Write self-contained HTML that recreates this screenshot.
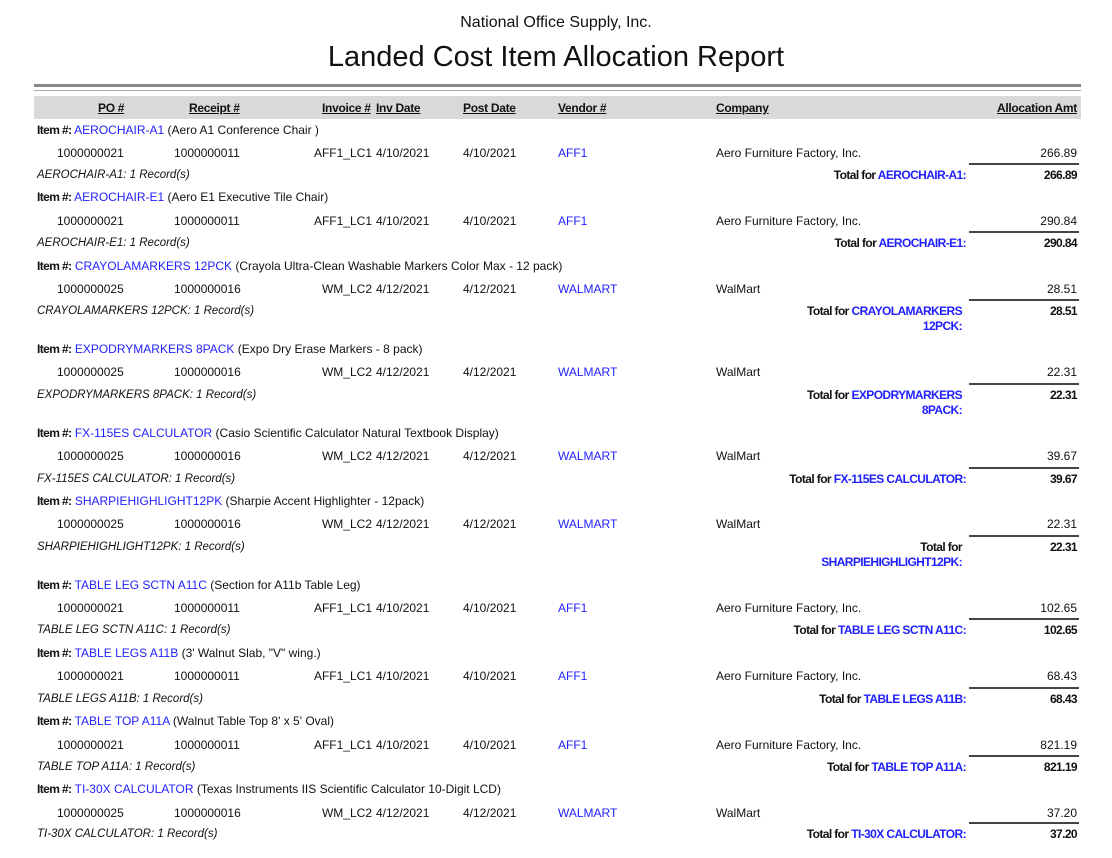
<!DOCTYPE html>
<html><head><meta charset="utf-8"><style>
body{margin:0;width:1112px;height:858px;background:#fff;position:relative;overflow:hidden;font-family:"Liberation Sans",sans-serif;font-size:12px;color:#111}
div{position:absolute;white-space:nowrap;line-height:14px}
.b{color:#1f1fff}
.n{font-family:"Liberation Sans",sans-serif;font-weight:bold;font-size:12px;letter-spacing:-0.6px}
.i{font-style:italic;font-size:11.5px}
.r{text-align:right}
.h{font-family:"Liberation Sans",sans-serif;font-weight:bold;text-decoration:underline;font-size:12px;letter-spacing:-0.3px}
.ln{height:0;border-top:2px solid #444;left:969px;width:110px}
</style></head><body>
<div style="left:0;width:1112px;text-align:center;top:14px;font-size:16px;line-height:18px">National Office Supply, Inc.</div>
<div style="left:0;width:1112px;text-align:center;top:40px;font-size:29px;line-height:34px">Landed Cost Item Allocation Report</div>
<div style="left:34px;width:1047px;top:84px;height:3px;background:#888"></div>
<div style="left:34px;width:1047px;top:90px;height:1px;background:#aaa"></div>
<div style="left:34px;width:1047px;top:96px;height:23px;background:#d9d9d9"></div>
<div class="h" style="left:98px;top:101px">PO #</div>
<div class="h" style="left:189px;top:101px">Receipt #</div>
<div class="h" style="left:322px;top:101px">Invoice #</div>
<div class="h" style="left:376px;top:101px">Inv Date</div>
<div class="h" style="left:463px;top:101px">Post Date</div>
<div class="h" style="left:558px;top:101px">Vendor #</div>
<div class="h" style="left:716px;top:101px">Company</div>
<div class="h r" style="right:35px;top:101px">Allocation Amt</div>

<!-- group 1 -->
<div style="left:37px;top:123px"><span class="n">Item #:</span> <span class="b">AEROCHAIR-A1</span> (Aero A1 Conference Chair )</div>
<div style="left:57px;top:146px">1000000021</div><div style="left:174px;top:146px">1000000011</div><div class="r" style="right:740px;top:146px">AFF1_LC1</div><div style="left:376px;top:146px">4/10/2021</div><div style="left:463px;top:146px">4/10/2021</div><div class="b" style="left:558px;top:146px">AFF1</div><div style="left:716px;top:146px">Aero Furniture Factory, Inc.</div><div class="r" style="right:35px;top:146px">266.89</div>
<div class="ln" style="top:163px"></div>
<div class="i" style="left:37px;top:168px">AEROCHAIR-A1: 1 Record(s)</div>
<div class="n r" style="right:146px;top:168px">Total for <span class="b">AEROCHAIR-A1:</span></div><div class="n r" style="right:35px;top:168px">266.89</div>

<!-- group 2 -->
<div style="left:37px;top:190px"><span class="n">Item #:</span> <span class="b">AEROCHAIR-E1</span> (Aero E1 Executive Tile Chair)</div>
<div style="left:57px;top:214px">1000000021</div><div style="left:174px;top:214px">1000000011</div><div class="r" style="right:740px;top:214px">AFF1_LC1</div><div style="left:376px;top:214px">4/10/2021</div><div style="left:463px;top:214px">4/10/2021</div><div class="b" style="left:558px;top:214px">AFF1</div><div style="left:716px;top:214px">Aero Furniture Factory, Inc.</div><div class="r" style="right:35px;top:214px">290.84</div>
<div class="ln" style="top:231px"></div>
<div class="i" style="left:37px;top:236px">AEROCHAIR-E1: 1 Record(s)</div>
<div class="n r" style="right:146px;top:236px">Total for <span class="b">AEROCHAIR-E1:</span></div><div class="n r" style="right:35px;top:236px">290.84</div>

<!-- group 3 -->
<div style="left:37px;top:259px"><span class="n">Item #:</span> <span class="b">CRAYOLAMARKERS 12PCK</span> (Crayola Ultra-Clean Washable Markers Color Max - 12 pack)</div>
<div style="left:57px;top:282px">1000000025</div><div style="left:174px;top:282px">1000000016</div><div class="r" style="right:740px;top:282px">WM_LC2</div><div style="left:376px;top:282px">4/12/2021</div><div style="left:463px;top:282px">4/12/2021</div><div class="b" style="left:558px;top:282px">WALMART</div><div style="left:716px;top:282px">WalMart</div><div class="r" style="right:35px;top:282px">28.51</div>
<div class="ln" style="top:299px"></div>
<div class="i" style="left:37px;top:304px">CRAYOLAMARKERS 12PCK: 1 Record(s)</div>
<div class="n r" style="right:150px;top:304px;line-height:15px">Total for <span class="b">CRAYOLAMARKERS</span><br><span class="b">12PCK:</span></div><div class="n r" style="right:35px;top:304px">28.51</div>

<!-- group 4 -->
<div style="left:37px;top:342px"><span class="n">Item #:</span> <span class="b">EXPODRYMARKERS 8PACK</span> (Expo Dry Erase Markers - 8 pack)</div>
<div style="left:57px;top:365px">1000000025</div><div style="left:174px;top:365px">1000000016</div><div class="r" style="right:740px;top:365px">WM_LC2</div><div style="left:376px;top:365px">4/12/2021</div><div style="left:463px;top:365px">4/12/2021</div><div class="b" style="left:558px;top:365px">WALMART</div><div style="left:716px;top:365px">WalMart</div><div class="r" style="right:35px;top:365px">22.31</div>
<div class="ln" style="top:383px"></div>
<div class="i" style="left:37px;top:388px">EXPODRYMARKERS 8PACK: 1 Record(s)</div>
<div class="n r" style="right:150px;top:388px;line-height:15px">Total for <span class="b">EXPODRYMARKERS</span><br><span class="b">8PACK:</span></div><div class="n r" style="right:35px;top:388px">22.31</div>

<!-- group 5 -->
<div style="left:37px;top:426px"><span class="n">Item #:</span> <span class="b">FX-115ES CALCULATOR</span> (Casio Scientific Calculator Natural Textbook Display)</div>
<div style="left:57px;top:449px">1000000025</div><div style="left:174px;top:449px">1000000016</div><div class="r" style="right:740px;top:449px">WM_LC2</div><div style="left:376px;top:449px">4/12/2021</div><div style="left:463px;top:449px">4/12/2021</div><div class="b" style="left:558px;top:449px">WALMART</div><div style="left:716px;top:449px">WalMart</div><div class="r" style="right:35px;top:449px">39.67</div>
<div class="ln" style="top:467px"></div>
<div class="i" style="left:37px;top:472px">FX-115ES CALCULATOR: 1 Record(s)</div>
<div class="n r" style="right:146px;top:472px">Total for <span class="b">FX-115ES CALCULATOR:</span></div><div class="n r" style="right:35px;top:472px">39.67</div>

<!-- group 6 -->
<div style="left:37px;top:494px"><span class="n">Item #:</span> <span class="b">SHARPIEHIGHLIGHT12PK</span> (Sharpie Accent Highlighter - 12pack)</div>
<div style="left:57px;top:517px">1000000025</div><div style="left:174px;top:517px">1000000016</div><div class="r" style="right:740px;top:517px">WM_LC2</div><div style="left:376px;top:517px">4/12/2021</div><div style="left:463px;top:517px">4/12/2021</div><div class="b" style="left:558px;top:517px">WALMART</div><div style="left:716px;top:517px">WalMart</div><div class="r" style="right:35px;top:517px">22.31</div>
<div class="ln" style="top:535px"></div>
<div class="i" style="left:37px;top:540px">SHARPIEHIGHLIGHT12PK: 1 Record(s)</div>
<div class="n r" style="right:150px;top:540px;line-height:15px">Total for<br><span class="b">SHARPIEHIGHLIGHT12PK:</span></div><div class="n r" style="right:35px;top:540px">22.31</div>

<!-- group 7 -->
<div style="left:37px;top:578px"><span class="n">Item #:</span> <span class="b">TABLE LEG SCTN A11C</span> (Section for A11b Table Leg)</div>
<div style="left:57px;top:601px">1000000021</div><div style="left:174px;top:601px">1000000011</div><div class="r" style="right:740px;top:601px">AFF1_LC1</div><div style="left:376px;top:601px">4/10/2021</div><div style="left:463px;top:601px">4/10/2021</div><div class="b" style="left:558px;top:601px">AFF1</div><div style="left:716px;top:601px">Aero Furniture Factory, Inc.</div><div class="r" style="right:35px;top:601px">102.65</div>
<div class="ln" style="top:618px"></div>
<div class="i" style="left:37px;top:623px">TABLE LEG SCTN A11C: 1 Record(s)</div>
<div class="n r" style="right:146px;top:623px">Total for <span class="b">TABLE LEG SCTN A11C:</span></div><div class="n r" style="right:35px;top:623px">102.65</div>

<!-- group 8 -->
<div style="left:37px;top:646px"><span class="n">Item #:</span> <span class="b">TABLE LEGS A11B</span> (3' Walnut Slab, "V" wing.)</div>
<div style="left:57px;top:669px">1000000021</div><div style="left:174px;top:669px">1000000011</div><div class="r" style="right:740px;top:669px">AFF1_LC1</div><div style="left:376px;top:669px">4/10/2021</div><div style="left:463px;top:669px">4/10/2021</div><div class="b" style="left:558px;top:669px">AFF1</div><div style="left:716px;top:669px">Aero Furniture Factory, Inc.</div><div class="r" style="right:35px;top:669px">68.43</div>
<div class="ln" style="top:687px"></div>
<div class="i" style="left:37px;top:692px">TABLE LEGS A11B: 1 Record(s)</div>
<div class="n r" style="right:146px;top:692px">Total for <span class="b">TABLE LEGS A11B:</span></div><div class="n r" style="right:35px;top:692px">68.43</div>

<!-- group 9 -->
<div style="left:37px;top:714px"><span class="n">Item #:</span> <span class="b">TABLE TOP A11A</span> (Walnut Table Top 8' x 5' Oval)</div>
<div style="left:57px;top:738px">1000000021</div><div style="left:174px;top:738px">1000000011</div><div class="r" style="right:740px;top:738px">AFF1_LC1</div><div style="left:376px;top:738px">4/10/2021</div><div style="left:463px;top:738px">4/10/2021</div><div class="b" style="left:558px;top:738px">AFF1</div><div style="left:716px;top:738px">Aero Furniture Factory, Inc.</div><div class="r" style="right:35px;top:738px">821.19</div>
<div class="ln" style="top:755px"></div>
<div class="i" style="left:37px;top:760px">TABLE TOP A11A: 1 Record(s)</div>
<div class="n r" style="right:146px;top:760px">Total for <span class="b">TABLE TOP A11A:</span></div><div class="n r" style="right:35px;top:760px">821.19</div>

<!-- group 10 -->
<div style="left:37px;top:782px"><span class="n">Item #:</span> <span class="b">TI-30X CALCULATOR</span> (Texas Instruments IIS Scientific Calculator 10-Digit LCD)</div>
<div style="left:57px;top:806px">1000000025</div><div style="left:174px;top:806px">1000000016</div><div class="r" style="right:740px;top:806px">WM_LC2</div><div style="left:376px;top:806px">4/12/2021</div><div style="left:463px;top:806px">4/12/2021</div><div class="b" style="left:558px;top:806px">WALMART</div><div style="left:716px;top:806px">WalMart</div><div class="r" style="right:35px;top:806px">37.20</div>
<div class="ln" style="top:822px"></div>
<div class="i" style="left:37px;top:827px">TI-30X CALCULATOR: 1 Record(s)</div>
<div class="n r" style="right:146px;top:827px">Total for <span class="b">TI-30X CALCULATOR:</span></div><div class="n r" style="right:35px;top:827px">37.20</div>
</body></html>
